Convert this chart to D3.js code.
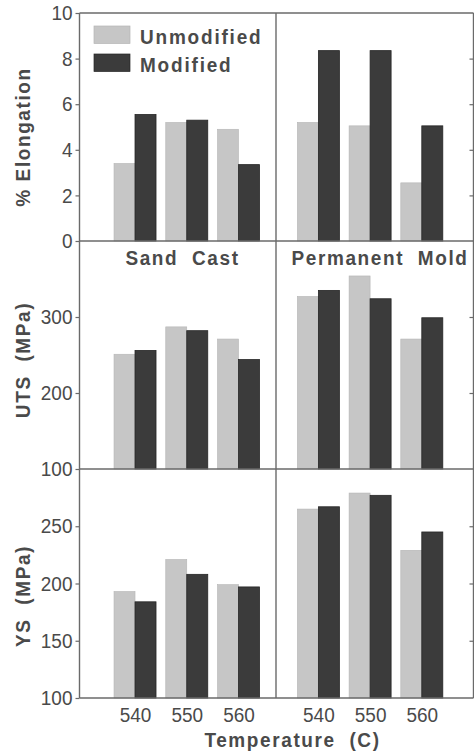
<!DOCTYPE html>
<html><head><meta charset="utf-8">
<script src="https://cdn.jsdelivr.net/npm/d3@7"></script>
<style>
body{margin:0;background:#fff;}
svg{display:block;}
text{font-family:"Liberation Sans",Arial,Helvetica,sans-serif;fill:#4a4a4a;}
</style></head>
<body>
<svg id="c" width="474" height="753"></svg>
<script>
// ---- data ----
const temps = [540, 550, 560];
const seriesNames = ["Unmodified", "Modified"];
const elongSandUnmod = [3.4, 5.2, 4.9];
const elongSandMod   = [5.55, 5.3, 3.35];
const elongPermUnmod = [5.2, 5.05, 2.55];
const elongPermMod   = [8.35, 8.35, 5.05];
const utsSandUnmod = [251, 287, 271];
const utsSandMod   = [256, 282, 244];
const utsPermUnmod = [327, 354, 271];
const utsPermMod   = [335, 324, 299];
const ysSandUnmod = [193, 221, 199];
const ysSandMod   = [184, 208, 197];
const ysPermUnmod = [265, 279, 229];
const ysPermMod   = [267, 277, 245];
const elongTicks = [0, 2, 4, 6, 8, 10];
const utsTicks = [100, 200, 300];
const ysTicks = [100, 150, 200, 250];
const castLabels = ["Sand  Cast", "Permanent  Mold"];

// ---- layout ----
const svg = d3.select("#c");
const L = 79.5, M = 276, R = 473.5;
const rowsY = [13, 241, 469, 698];
const lightC = "#c6c6c6", darkC = "#3b3b3b", lineC = "#6a6a6a", textC = "#4a4a4a";
const sy = 1.1; // vertical stretch of the scanned text

const xLeft = d3.scaleLinear().domain([529.27, 567.25]).range([L, M]);
const xRight = d3.scaleLinear().domain([531.8, 570.0]).range([M, R]);
const yElong = d3.scaleLinear().domain([0, 10]).range([rowsY[1], rowsY[0]]);
const yUts = d3.scaleLinear().domain([100, 400]).range([rowsY[2], rowsY[1]]);
const yYs = d3.scaleLinear().domain([100, 300]).range([rowsY[3], rowsY[2]]);
const barW = 21;

const rows = [
  {y: yElong, ticks: elongTicks, inner: [2,4,6,8], data: [[elongSandUnmod, elongSandMod],[elongPermUnmod, elongPermMod]]},
  {y: yUts, ticks: utsTicks, inner: [200,300], data: [[utsSandUnmod, utsSandMod],[utsPermUnmod, utsPermMod]]},
  {y: yYs, ticks: ysTicks, inner: [150,200,250], data: [[ysSandUnmod, ysSandMod],[ysPermUnmod, ysPermMod]]}
];
const xs = [xLeft, xRight];

// bars
rows.forEach((row, ri) => {
  xs.forEach((x, pi) => {
    const [un, mo] = row.data[pi];
    const g = svg.append("g");
    const base = row.y.domain()[0];
    g.selectAll("rect.u").data(temps).join("rect")
      .attr("x", d => x(d) - barW).attr("width", barW)
      .attr("y", (d,i) => row.y(un[i])).attr("height", (d,i) => row.y(base) - row.y(un[i]))
      .attr("fill", lightC).attr("stroke", "#b5b5b5").attr("stroke-width", 0.6);
    g.selectAll("rect.m").data(temps).join("rect")
      .attr("x", d => x(d)).attr("width", barW)
      .attr("y", (d,i) => row.y(mo[i])).attr("height", (d,i) => row.y(base) - row.y(mo[i]))
      .attr("fill", darkC).attr("stroke", "#262626").attr("stroke-width", 0.8);
  });
  // left axis
  const ax = svg.append("g").attr("transform", `translate(${L},0)`)
    .call(d3.axisLeft(row.y).tickValues(row.ticks).tickSize(4).tickSizeOuter(0).tickPadding(3).tickFormat(d3.format("d")));
  ax.select(".domain").remove();
  ax.selectAll("line").attr("stroke", lineC).attr("stroke-width", 1.2);
  ax.selectAll("text").attr("font-size", 19).attr("fill", textC)
    .attr("transform", `scale(1,${sy})`);
  // right inner ticks
  const ax2 = svg.append("g").attr("transform", `translate(${R},0)`)
    .call(d3.axisLeft(row.y).tickValues(row.inner).tickSize(4).tickSizeOuter(0).tickFormat(""));
  ax2.select(".domain").remove();
  ax2.selectAll("line").attr("stroke", lineC).attr("stroke-width", 1.2);
});

// frame lines
rowsY.forEach(yv => svg.append("line").attr("x1", L).attr("x2", R).attr("y1", yv).attr("y2", yv)
  .attr("stroke", lineC).attr("stroke-width", 1.4));
[L, M, R].forEach(xv => svg.append("line").attr("x1", xv).attr("x2", xv).attr("y1", rowsY[0]).attr("y2", rowsY[3])
  .attr("stroke", lineC).attr("stroke-width", 1.4));

// x tick labels
xs.forEach(x => {
  const ax = svg.append("g").attr("transform", `translate(0,${rowsY[3]})`)
    .call(d3.axisBottom(x).tickValues(temps).tickSize(0).tickPadding(8).tickFormat(d3.format("d")));
  ax.select(".domain").remove();
  ax.selectAll("text").attr("font-size", 19).attr("fill", textC).attr("transform", `scale(1,${sy})`);
});

function label(txt, x, y, opts = {}) {
  const t = svg.append("text")
    .attr("transform", `translate(${x},${y})` + (opts.rotate ? ` rotate(${opts.rotate})` : "") + ` scale(1,${sy})`)
    .attr("text-anchor", opts.anchor || "middle")
    .attr("font-size", opts.size || 19)
    .attr("font-weight", "bold")
    .attr("letter-spacing", opts.ls == null ? 1.8 : opts.ls)
    .style("white-space", "pre")
    .attr("fill", textC)
    .text(txt);
  return t;
}

// legend
const legY = [26, 54];
seriesNames.forEach((n, i) => {
  svg.append("rect").attr("x", 94).attr("y", legY[i]).attr("width", 36).attr("height", 17.5)
    .attr("fill", i === 0 ? lightC : darkC).attr("stroke", i === 0 ? "#b5b5b5" : "#262626").attr("stroke-width", 0.7);
  label(n, 140, legY[i] + 17.5, {anchor: "start"});
});

// cast labels
label(castLabels[0], 182.5, 265, {ls: 1.6});
label(castLabels[1], 380, 265, {ls: 1.6});

// axis titles
label("% Elongation", 29.5, 137, {rotate: -90, ls: 1.6});
label("UTS  (MPa)", 29.5, 360, {rotate: -90, ls: 1.6});
label("YS  (MPa)", 29.5, 596, {rotate: -90, ls: 1.6});
label("Temperature  (C)", 292.5, 746.5, {ls: 1.6});
</script>
</body></html>
